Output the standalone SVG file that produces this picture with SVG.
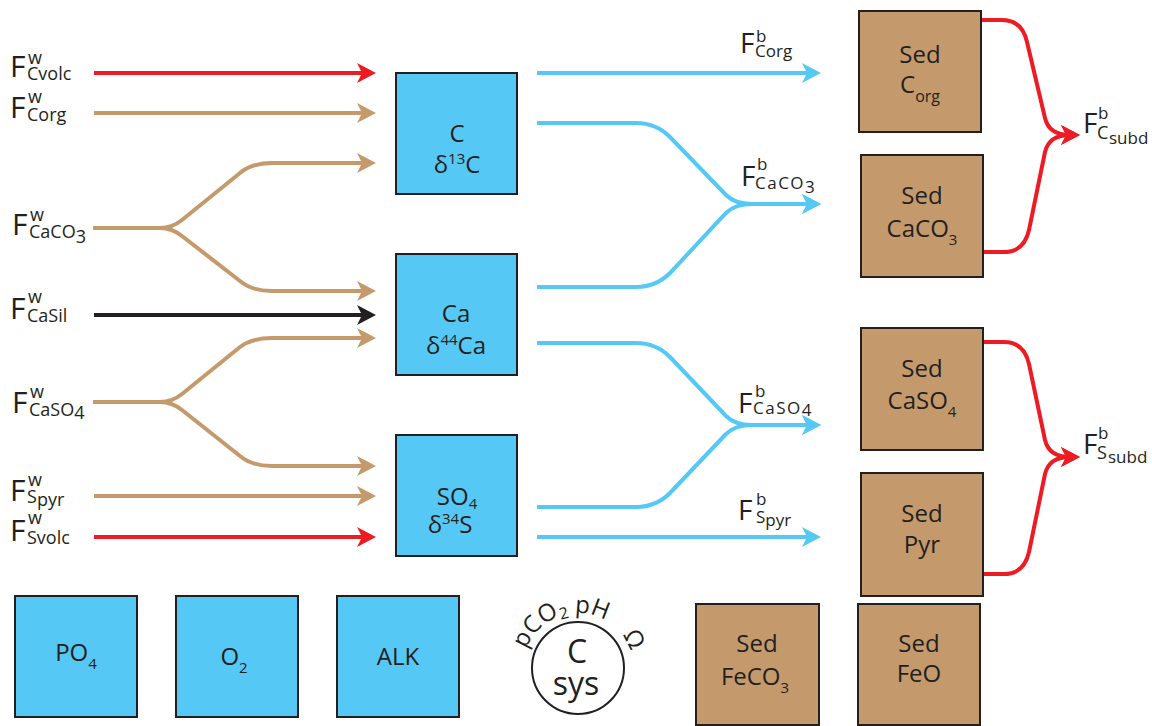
<svg xmlns="http://www.w3.org/2000/svg" width="1152" height="726" viewBox="0 0 1152 726">
<defs>
<style>
text{font-family:"Open Sans","Liberation Sans",sans-serif;fill:#231f20}
.box{stroke:#231f20;stroke-width:2}
.blue{fill:#56c8f5}
.brown{fill:#c49a6c}
.bt{font-size:24px;text-anchor:middle}
.fl{font-size:30px}
.fr{font-size:28px}
.sup{font-size:18px}
.sub{font-size:18px}
.supr{font-size:17px}
.subr{font-size:17px}
.ln{fill:none;stroke-width:4}
.red{stroke:#ed1c24}
.tan{stroke:#c49a6c}
.blk{stroke:#231f20}
.cyan{stroke:#56c8f5}
</style>
<marker id="aRed" markerUnits="userSpaceOnUse" markerWidth="30" markerHeight="30" refX="0" refY="0" orient="auto" overflow="visible"><path d="M10,0 L-9,-10 L-4,0 L-9,10 Z" fill="#ed1c24"/></marker>
<marker id="aTan" markerUnits="userSpaceOnUse" markerWidth="30" markerHeight="30" refX="0" refY="0" orient="auto" overflow="visible"><path d="M10,0 L-9,-10 L-4,0 L-9,10 Z" fill="#c49a6c"/></marker>
<marker id="aBlk" markerUnits="userSpaceOnUse" markerWidth="30" markerHeight="30" refX="0" refY="0" orient="auto" overflow="visible"><path d="M10,0 L-9,-10 L-4,0 L-9,10 Z" fill="#231f20"/></marker>
<marker id="aCyan" markerUnits="userSpaceOnUse" markerWidth="30" markerHeight="30" refX="0" refY="0" orient="auto" overflow="visible"><path d="M10,0 L-9,-10 L-4,0 L-9,10 Z" fill="#56c8f5"/></marker>
<path id="arcTxt" d="M526.3,649.2 A55,55 0 0 1 632.8,663.2"/>
</defs>
<rect width="1152" height="726" fill="#ffffff"/>

<g id="connectors">
<path class="ln red" d="M94,73 H366" marker-end="url(#aRed)"/>
<path class="ln tan" d="M94,113 H366" marker-end="url(#aTan)"/>
<path class="ln tan" d="M93,228 H160 Q172,228 182,220 L240,173 Q252,163 272,163 H366" marker-end="url(#aTan)"/>
<path class="ln tan" d="M93,228 H160 Q172,228 182,236 L240,281 Q252,291 272,291 H366" marker-end="url(#aTan)"/>
<path class="ln blk" d="M94,315 H366" marker-end="url(#aBlk)"/>
<path class="ln tan" d="M93,402 H160 Q172,402 182,394 L240,347 Q252,338 272,338 H366" marker-end="url(#aTan)"/>
<path class="ln tan" d="M93,402 H160 Q172,402 182,410 L240,456 Q252,466 272,466 H366" marker-end="url(#aTan)"/>
<path class="ln tan" d="M94,496 H366" marker-end="url(#aTan)"/>
<path class="ln red" d="M94,537 H366" marker-end="url(#aRed)"/>

<path class="ln cyan" d="M537,73 H811" marker-end="url(#aCyan)"/>
<path class="ln cyan" d="M537,123 H636 Q656,123 670,137 L726,195 Q735,204 752,204 H811" marker-end="url(#aCyan)"/>
<path class="ln cyan" d="M537,287 H636 Q656,287 670,273 L726,213 Q735,204 752,204 H811" marker-end="url(#aCyan)"/>
<path class="ln cyan" d="M537,343 H636 Q656,343 670,357 L726,416 Q735,425 752,425 H811" marker-end="url(#aCyan)"/>
<path class="ln cyan" d="M537,507 H636 Q656,507 670,493 L726,434 Q735,425 752,425 H811" marker-end="url(#aCyan)"/>
<path class="ln cyan" d="M537,537 H811" marker-end="url(#aCyan)"/>

<path class="ln red" d="M981,20 H1002 Q1022,20 1027,42 L1045,118 Q1049,135 1070,135" marker-end="url(#aRed)"/>
<path class="ln red" d="M983,252 H1004 Q1024,252 1029,230 L1045,152 Q1049,135 1070,135" marker-end="url(#aRed)"/>
<path class="ln red" d="M983,342 H1004 Q1024,342 1029,364 L1045,440 Q1049,457 1070,457" marker-end="url(#aRed)"/>
<path class="ln red" d="M983,574 H1004 Q1024,574 1029,552 L1045,474 Q1049,457 1070,457" marker-end="url(#aRed)"/>
</g>

<g id="flux-labels">
<text><tspan class="fl" x="10" y="77">F</tspan><tspan class="sup" x="28" y="64">w</tspan><tspan class="sub" x="27" y="80">Cvolc</tspan></text>
<text><tspan class="fl" x="10" y="118">F</tspan><tspan class="sup" x="28" y="103">w</tspan><tspan class="sub" x="27" y="121">Corg</tspan></text>
<text><tspan class="fl" x="12" y="235">F</tspan><tspan class="sup" x="30" y="221">w</tspan><tspan class="sub" x="29" y="238">CaCO<tspan dy="5">3</tspan></tspan></text>
<text><tspan class="fl" x="10" y="319">F</tspan><tspan class="sup" x="28" y="303">w</tspan><tspan class="sub" x="27" y="322">CaSil</tspan></text>
<text><tspan class="fl" x="12" y="413">F</tspan><tspan class="sup" x="30" y="398">w</tspan><tspan class="sub" x="29" y="416">CaSO<tspan dy="3">4</tspan></tspan></text>
<text><tspan class="fl" x="10" y="501">F</tspan><tspan class="sup" x="28" y="486">w</tspan><tspan class="sub" x="27" y="503">S<tspan dy="3">pyr</tspan></tspan></text>
<text><tspan class="fl" x="10" y="541">F</tspan><tspan class="sup" x="28" y="524">w</tspan><tspan class="sub" x="27" y="544">Svolc</tspan></text>

<text><tspan class="fr" x="740" y="53">F</tspan><tspan class="supr" x="756" y="42">b</tspan><tspan class="subr" x="755" y="57">Corg</tspan></text>
<text><tspan class="fr" x="741" y="186">F</tspan><tspan class="supr" x="757" y="170">b</tspan><tspan class="subr" x="755" y="189" letter-spacing="1.5">CaCO<tspan dy="4">3</tspan></tspan></text>
<text><tspan class="fr" x="738" y="413">F</tspan><tspan class="supr" x="755" y="397">b</tspan><tspan class="subr" x="753" y="414" letter-spacing="1.5">CaSO<tspan dy="2">4</tspan></tspan></text>
<text><tspan class="fr" x="738" y="520">F</tspan><tspan class="supr" x="756" y="505">b</tspan><tspan class="subr" x="756" y="523">S<tspan dy="3">pyr</tspan></tspan></text>
<text><tspan class="fr" x="1083" y="133">F</tspan><tspan class="supr" x="1098" y="119">b</tspan><tspan class="sub" x="1097" y="139">C</tspan><tspan class="subr" x="1109" y="144">subd</tspan></text>
<text><tspan class="fr" x="1083" y="454">F</tspan><tspan class="supr" x="1098" y="439">b</tspan><tspan class="sub" x="1097" y="459">S</tspan><tspan class="subr" x="1108" y="463">subd</tspan></text>
</g>

<g id="node-C"><rect class="box blue" x="396" y="73" width="121" height="121"/><text class="bt" x="457" y="142">C</text><text class="bt" x="457" y="173">δ<tspan font-size="15" dy="-9">13</tspan><tspan dy="9">C</tspan></text></g>
<g id="node-Ca"><rect class="box blue" x="396" y="254" width="121" height="121"/><text class="bt" x="456" y="322">Ca</text><text class="bt" x="456" y="354">δ<tspan font-size="15" dy="-9">44</tspan><tspan dy="9">Ca</tspan></text></g>
<g id="node-SO4"><rect class="box blue" x="396" y="435" width="121" height="121"/><text class="bt" x="457" y="505">SO<tspan font-size="15" dy="4">4</tspan></text><text class="bt" x="450" y="533">δ<tspan font-size="15" dy="-9">34</tspan><tspan dy="9">S</tspan></text></g>

<g id="node-PO4"><rect class="box blue" x="15" y="596" width="122" height="121"/><text class="bt" x="76" y="661">PO<tspan font-size="15" dy="8">4</tspan></text></g>
<g id="node-O2"><rect class="box blue" x="176" y="596" width="122" height="121"/><text class="bt" x="234" y="665">O<tspan font-size="15" dy="8">2</tspan></text></g>
<g id="node-ALK"><rect class="box blue" x="337" y="596" width="122" height="121"/><text class="bt" x="398" y="665">ALK</text></g>

<g id="node-Csys">
<circle cx="578" cy="668" r="46" fill="#ffffff" stroke="#231f20" stroke-width="2"/>
<text class="bt" x="577" y="663" style="font-size:32px">C</text>
<text class="bt" x="576" y="695" style="font-size:32px">sys</text>
<text style="font-size:24px"><textPath href="#arcTxt">pCO<tspan font-size="16" baseline-shift="-4">2</tspan> pH</textPath></text>
<text style="font-size:24px"><textPath href="#arcTxt" startOffset="118">Ω</textPath></text>
</g>

<g id="node-SedCorg"><rect class="box brown" x="859" y="11" width="122" height="121"/><text class="bt" x="920" y="63">Sed</text><text class="bt" x="920" y="93">C<tspan font-size="16" dy="9">org</tspan></text></g>
<g id="node-SedCaCO3"><rect class="box brown" x="861" y="155" width="122" height="122"/><text class="bt" x="922" y="204">Sed</text><text class="bt" x="922" y="237">CaCO<tspan font-size="15" dy="8">3</tspan></text></g>
<g id="node-SedCaSO4"><rect class="box brown" x="861" y="328" width="122" height="122"/><text class="bt" x="922" y="377">Sed</text><text class="bt" x="922" y="409">CaSO<tspan font-size="15" dy="8">4</tspan></text></g>
<g id="node-SedPyr"><rect class="box brown" x="861" y="473" width="122" height="123"/><text class="bt" x="922" y="522">Sed</text><text class="bt" x="922" y="553">Pyr</text></g>
<g id="node-SedFeCO3"><rect class="box brown" x="696" y="604" width="123" height="121"/><text class="bt" x="757" y="652">Sed</text><text class="bt" x="755" y="685">FeCO<tspan font-size="15" dy="8">3</tspan></text></g>
<g id="node-SedFeO"><rect class="box brown" x="858" y="604" width="122" height="121"/><text class="bt" x="919" y="652">Sed</text><text class="bt" x="919" y="682">FeO</text></g>
</svg>
